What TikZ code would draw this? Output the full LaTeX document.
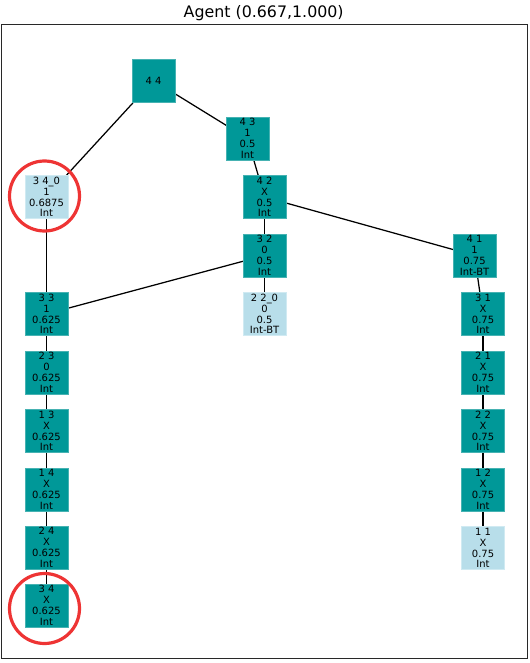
\documentclass[tikz,border=0pt]{standalone}
\usepackage{fontspec}
\setmainfont{DejaVu Sans}
\usetikzlibrary{backgrounds}
\definecolor{tealfill}{RGB}{0,152,152}
\definecolor{tealedge}{RGB}{70,178,178}
\definecolor{lightfill}{RGB}{184,222,234}
\definecolor{lightedge}{RGB}{208,234,242}
\definecolor{ringred}{RGB}{238,52,52}
\definecolor{framegray}{RGB}{40,40,40}
\tikzset{
  statebox/.style={rectangle, fill=tealfill, draw=tealedge, line width=0.7bp,
    minimum width=43bp, minimum height=43bp, inner sep=0pt, align=center,
    font=\fontsize{10}{10.9}\selectfont},
  leafbox/.style={statebox, fill=lightfill, draw=lightedge},
  edge/.style={black, line width=1.25bp},
  ring/.style={circle, draw=ringred, line width=3.2bp, minimum size=70bp, inner sep=0pt},
}
\begin{document}
\begin{tikzpicture}[x=1bp,y=-1bp]
\useasboundingbox (0,0) rectangle (530,663);
\node[font=\fontsize{15.9}{18}\selectfont, anchor=base] (title) at (263.7,17.5) {Agent (0.667,1.000)};
\draw[framegray, line width=1bp] (1,24.5) rectangle (527.5,658);

\node[statebox] (n44) at (153.5,80.5) {4 4};
\node[statebox] (n43) at (247.5,138.5) {4 3\\1\\0.5\\Int};
\node[leafbox] (n340) at (46.5,197) {3 4\_0\\1\\0.6875\\Int};
\node[statebox] (n42) at (264.5,197) {4 2\\X\\0.5\\Int};
\node[statebox] (n32) at (264.5,255.5) {3 2\\0\\0.5\\Int};
\node[leafbox] (n220) at (264.5,314) {2 2\_0\\0\\0.5\\Int-BT};
\node[statebox] (n41) at (474.5,255.5) {4 1\\1\\0.75\\Int-BT};
\node[statebox] (n31) at (483,314) {3 1\\X\\0.75\\Int};
\node[statebox] (n21) at (483,372.5) {2 1\\X\\0.75\\Int};
\node[statebox] (n22) at (483,431) {2 2\\X\\0.75\\Int};
\node[statebox] (n12) at (483,489.5) {1 2\\X\\0.75\\Int};
\node[leafbox] (n11) at (483,548) {1 1\\X\\0.75\\Int};
\node[statebox] (n33) at (46.5,314) {3 3\\1\\0.625\\Int};
\node[statebox] (n23) at (46.5,372.5) {2 3\\0\\0.625\\Int};
\node[statebox] (n13) at (46.5,431) {1 3\\X\\0.625\\Int};
\node[statebox] (n14) at (46.5,489.5) {1 4\\X\\0.625\\Int};
\node[statebox] (n24) at (46.5,547.5) {2 4\\X\\0.625\\Int};
\node[statebox] (n34) at (46.5,605.5) {3 4\\X\\0.625\\Int};

\begin{scope}[on background layer]
\draw[edge] (n44.center) -- (n340.center);
\draw[edge] (n44.center) -- (n43.center);
\draw[edge] (n43.center) -- (n42.center);
\draw[edge] (n42.center) -- (n32.center);
\draw[edge] (n42.center) -- (n41.center);
\draw[edge] (n32.center) -- (n220.center);
\draw[edge] (n32.center) -- (n33.center);
\draw[edge] (n340.center) -- (n33.center);
\draw[edge] (n33.center) -- (n23.center);
\draw[edge] (n23.center) -- (n13.center);
\draw[edge] (n13.center) -- (n14.center);
\draw[edge] (n14.center) -- (n24.center);
\draw[edge] (n24.center) -- (n34.center);
\draw[edge] (n41.center) -- (n31.center);
\draw[edge] (n31.center) -- (n21.center);
\draw[edge] (n21.center) -- (n22.center);
\draw[edge] (n22.center) -- (n12.center);
\draw[edge] (n12.center) -- (n11.center);
\end{scope}

\node[ring] (ringtop) at (44.5,196) {};
\node[ring] (ringbottom) at (44.5,608.5) {};
\end{tikzpicture}
\end{document}
